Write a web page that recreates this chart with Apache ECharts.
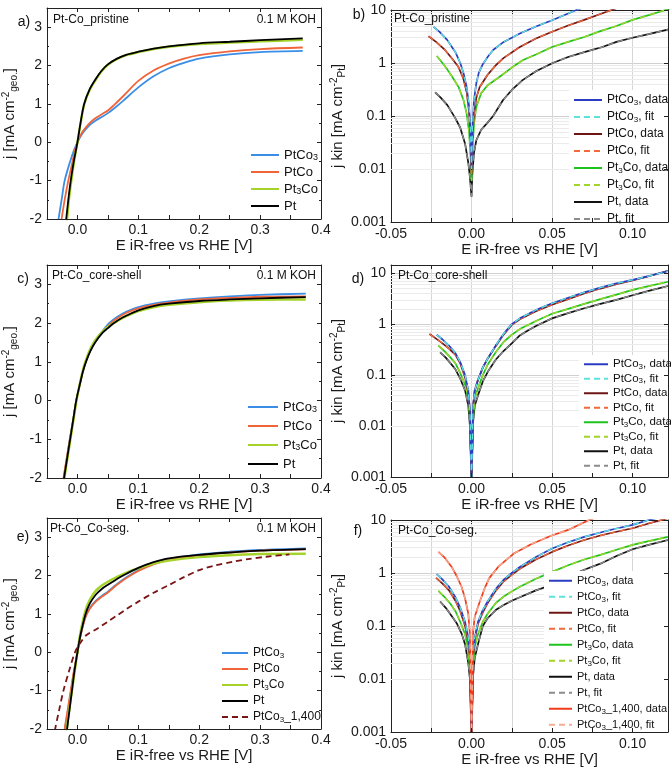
<!DOCTYPE html>
<html><head><meta charset="utf-8">
<script src="https://cdn.jsdelivr.net/npm/echarts/dist/echarts.min.js"></script>
<style>html,body{margin:0;padding:0;background:#fff}#c{width:671px;height:769px}</style>
</head><body><div id="c"></div>
<script>
// ---------- data ----------
// panel a: Pt-Co_pristine, linear j vs E
const a_PtCo3 = [[-0.033,-2.3],[-0.031,-2.0],[-0.026,-1.5],[-0.021,-1.0],[-0.012,-0.5],[-0.005,-0.18],[0,0],[0.005,0.15],[0.01,0.27],[0.02,0.45],[0.03,0.57],[0.04,0.66],[0.05,0.76],[0.06,0.88],[0.075,1.08],[0.1,1.43],[0.125,1.72],[0.15,1.93],[0.175,2.07],[0.2,2.18],[0.25,2.29],[0.3,2.35],[0.37,2.38]];
const a_PtCo = [[-0.028,-2.3],[-0.026,-2.0],[-0.021,-1.5],[-0.015,-1.0],[-0.008,-0.5],[-0.004,-0.2],[0,0],[0.005,0.18],[0.01,0.31],[0.02,0.5],[0.03,0.63],[0.04,0.73],[0.05,0.83],[0.06,0.97],[0.075,1.2],[0.1,1.6],[0.125,1.87],[0.15,2.05],[0.175,2.18],[0.2,2.27],[0.25,2.37],[0.3,2.43],[0.37,2.47]];
const a_Pt3Co = [[-0.0195,-2.3],[-0.017,-2.0],[-0.014,-1.5],[-0.010,-1.0],[-0.0055,-0.5],[0,0],[0.005,0.48],[0.011,0.98],[0.02,1.36],[0.03,1.63],[0.04,1.86],[0.05,2.02],[0.065,2.17],[0.08,2.27],[0.1,2.35],[0.125,2.43],[0.15,2.49],[0.2,2.56],[0.25,2.6],[0.3,2.63],[0.37,2.67]];
const a_Pt = [[-0.021,-2.3],[-0.0185,-2.0],[-0.015,-1.5],[-0.011,-1.0],[-0.006,-0.5],[-0.003,-0.25],[0,0],[0.005,0.5],[0.011,1.0],[0.02,1.38],[0.03,1.65],[0.04,1.87],[0.05,2.03],[0.065,2.18],[0.08,2.28],[0.1,2.36],[0.125,2.44],[0.15,2.5],[0.2,2.58],[0.25,2.62],[0.3,2.66],[0.37,2.71]];

// panel b: Pt-Co_pristine, kinetic current (log)
const b_PtCo3 = [[-0.0236,4.8],[-0.02,3.9],[-0.015,2.7],[-0.01,1.6],[-0.007,1.0],[-0.005,0.65],[-0.003,0.35],[-0.0015,0.15],[-0.0005,0.04],[0,0.01],[0.0005,0.05],[0.0015,0.2],[0.003,0.42],[0.0045,0.65],[0.007,0.95],[0.01,1.3],[0.0134,1.76],[0.02,2.5],[0.03,3.6],[0.04,4.9],[0.05,6.4],[0.06,8.6],[0.065,10],[0.07,11.3]];
const b_PtCo = [[-0.0267,3.2],[-0.022,2.5],[-0.0165,1.76],[-0.012,1.2],[-0.0082,0.85],[-0.005,0.5],[-0.003,0.28],[-0.0015,0.12],[-0.0005,0.035],[0,0.008],[0.0005,0.035],[0.0015,0.11],[0.003,0.22],[0.005,0.35],[0.01,0.6],[0.015,0.9],[0.02,1.25],[0.03,2.0],[0.04,2.9],[0.05,3.9],[0.06,5.1],[0.07,6.5],[0.08,8.4],[0.09,10.8]];
const b_Pt3Co = [[-0.0216,1.36],[-0.018,1.0],[-0.015,0.75],[-0.012,0.55],[-0.008,0.35],[-0.005,0.2],[-0.003,0.11],[-0.0015,0.05],[-0.0005,0.015],[0,0.006],[0.0005,0.02],[0.0015,0.07],[0.003,0.15],[0.006,0.27],[0.01,0.38],[0.0175,0.55],[0.025,0.82],[0.032,1.14],[0.04,1.45],[0.05,2.0],[0.06,2.5],[0.07,3.1],[0.08,4.0],[0.09,5.0],[0.1,6.5],[0.11,8.0],[0.12,9.9],[0.125,11]];
const b_Pt = [[-0.0226,0.28],[-0.019,0.22],[-0.015,0.16],[-0.01,0.09],[-0.007,0.06],[-0.004,0.03],[-0.002,0.013],[-0.001,0.007],[0,0.003],[0.0005,0.008],[0.0015,0.02],[0.003,0.035],[0.006,0.055],[0.01,0.075],[0.0134,0.1],[0.0196,0.2],[0.025,0.31],[0.0319,0.48],[0.04,0.7],[0.0504,1.0],[0.06,1.3],[0.07,1.6],[0.0813,2.0],[0.09,2.5],[0.1,3.0],[0.11,3.5],[0.1224,4.3]];

// panel c: Pt-Co_core-shell, linear
const c_PtCo3 = [[-0.025,-2.3],[-0.0225,-2.0],[-0.0175,-1.5],[-0.0125,-1.0],[-0.007,-0.5],[-0.002,0],[0.004,0.42],[0.009,0.76],[0.014,1.02],[0.021,1.3],[0.029,1.53],[0.04,1.77],[0.052,2.0],[0.065,2.16],[0.08,2.29],[0.1,2.41],[0.125,2.5],[0.15,2.56],[0.2,2.64],[0.25,2.69],[0.3,2.73],[0.375,2.76]];
const c_PtCo = [[-0.025,-2.3],[-0.0228,-2.0],[-0.0178,-1.5],[-0.0125,-1.0],[-0.007,-0.5],[-0.002,0],[0.004,0.42],[0.009,0.75],[0.014,1.01],[0.021,1.28],[0.029,1.51],[0.04,1.75],[0.055,2.0],[0.065,2.12],[0.08,2.26],[0.1,2.38],[0.125,2.47],[0.15,2.53],[0.2,2.61],[0.25,2.65],[0.3,2.68],[0.375,2.69]];
const c_Pt3Co = [[-0.0235,-2.3],[-0.0213,-2.0],[-0.0165,-1.5],[-0.0115,-1.0],[-0.0065,-0.5],[-0.0015,0],[0.004,0.44],[0.009,0.79],[0.014,1.05],[0.021,1.33],[0.029,1.55],[0.04,1.76],[0.05,1.9],[0.06,2.0],[0.075,2.14],[0.1,2.31],[0.125,2.41],[0.15,2.47],[0.2,2.54],[0.25,2.58],[0.3,2.6],[0.375,2.61]];
const c_Pt = [[-0.025,-2.3],[-0.022,-2.0],[-0.017,-1.5],[-0.012,-1.0],[-0.007,-0.5],[-0.002,0],[0.004,0.42],[0.009,0.75],[0.014,1.0],[0.021,1.27],[0.029,1.5],[0.04,1.73],[0.05,1.87],[0.059,1.99],[0.075,2.15],[0.1,2.33],[0.125,2.44],[0.15,2.5],[0.2,2.57],[0.25,2.61],[0.3,2.64],[0.375,2.67]];

// panel d: Pt-Co_core-shell, kinetic current (log)
const d_PtCo3 = [[-0.0216,0.62],[-0.018,0.5],[-0.014,0.38],[-0.01,0.27],[-0.007,0.18],[-0.004,0.1],[-0.002,0.05],[-0.001,0.02],[0,0.0008],[0.001,0.025],[0.002,0.05],[0.004,0.08],[0.007,0.14],[0.01,0.21],[0.015,0.38],[0.02,0.65],[0.025,1.0],[0.03,1.3],[0.04,1.9],[0.05,2.57],[0.06,3.3],[0.07,4.2],[0.08,5.2],[0.09,6.3],[0.1,7.4],[0.11,8.8],[0.122,11.0]];
const d_PtCo = [[-0.0261,0.64],[-0.022,0.52],[-0.018,0.42],[-0.014,0.33],[-0.01,0.25],[-0.007,0.17],[-0.004,0.09],[-0.002,0.045],[-0.001,0.02],[0,0.0008],[0.001,0.025],[0.002,0.05],[0.004,0.08],[0.007,0.14],[0.01,0.21],[0.015,0.37],[0.02,0.63],[0.025,0.97],[0.03,1.25],[0.04,1.8],[0.05,2.4],[0.06,3.1],[0.07,4.0],[0.08,5.0],[0.09,6.1],[0.1,7.2],[0.11,8.7],[0.122,11.2]];
const d_Pt3Co = [[-0.0206,0.38],[-0.017,0.3],[-0.013,0.22],[-0.01,0.17],[-0.007,0.11],[-0.004,0.065],[-0.002,0.035],[-0.001,0.015],[0,0.0008],[0.001,0.015],[0.002,0.035],[0.004,0.055],[0.007,0.1],[0.01,0.16],[0.015,0.28],[0.02,0.45],[0.025,0.62],[0.03,0.8],[0.036,1.0],[0.04,1.15],[0.05,1.6],[0.06,2.0],[0.07,2.5],[0.08,3.1],[0.09,3.8],[0.1,4.7],[0.11,5.6],[0.122,6.8]];
const d_Pt = [[-0.0195,0.28],[-0.016,0.22],[-0.013,0.17],[-0.01,0.13],[-0.007,0.085],[-0.004,0.05],[-0.002,0.025],[-0.001,0.01],[0,0.0008],[0.001,0.012],[0.002,0.025],[0.004,0.04],[0.007,0.075],[0.01,0.115],[0.015,0.2],[0.02,0.3],[0.025,0.42],[0.03,0.6],[0.035,0.75],[0.04,0.92],[0.05,1.3],[0.06,1.65],[0.07,2.05],[0.08,2.5],[0.09,3.0],[0.1,3.7],[0.11,4.5],[0.122,5.6]];

// panel e: Pt-Co_Co-seg., linear
const e_PtCo3 = [[-0.023,-2.3],[-0.0205,-2.0],[-0.0155,-1.5],[-0.0105,-1.0],[-0.0055,-0.5],[0,0],[0.005,0.44],[0.013,0.92],[0.02,1.15],[0.03,1.34],[0.04,1.47],[0.05,1.58],[0.062,1.74],[0.075,1.9],[0.1,2.14],[0.125,2.31],[0.15,2.43],[0.2,2.55],[0.25,2.62],[0.3,2.67],[0.375,2.71]];
const e_PtCo = [[-0.023,-2.3],[-0.021,-2.0],[-0.016,-1.5],[-0.011,-1.0],[-0.006,-0.5],[0,0],[0.005,0.42],[0.013,0.9],[0.02,1.13],[0.03,1.32],[0.04,1.45],[0.05,1.56],[0.062,1.72],[0.075,1.88],[0.1,2.12],[0.125,2.29],[0.15,2.41],[0.2,2.53],[0.25,2.6],[0.3,2.65],[0.375,2.68]];
const e_Pt3Co = [[-0.0195,-2.3],[-0.0175,-2.0],[-0.0135,-1.5],[-0.009,-1.0],[-0.0045,-0.5],[0,0],[0.005,0.52],[0.013,1.08],[0.02,1.36],[0.03,1.6],[0.04,1.74],[0.05,1.84],[0.062,1.94],[0.075,2.04],[0.1,2.19],[0.125,2.31],[0.15,2.39],[0.2,2.48],[0.25,2.53],[0.3,2.56],[0.375,2.57]];
const e_Pt = [[-0.019,-2.3],[-0.017,-2.0],[-0.013,-1.5],[-0.009,-1.0],[-0.005,-0.5],[0,0],[0.005,0.45],[0.013,0.98],[0.02,1.26],[0.03,1.5],[0.04,1.65],[0.05,1.76],[0.062,1.88],[0.075,2.0],[0.1,2.2],[0.125,2.35],[0.15,2.45],[0.2,2.54],[0.25,2.6],[0.3,2.65],[0.375,2.69]];
const e_PtCo3_1400 = [[-0.04,-2.3],[-0.0366,-2.0],[-0.03,-1.5],[-0.023,-1.0],[-0.014,-0.5],[-0.004,0],[0.004,0.23],[0.015,0.45],[0.033,0.62],[0.05,0.8],[0.066,0.97],[0.08,1.12],[0.1,1.32],[0.125,1.55],[0.15,1.75],[0.175,1.96],[0.2,2.14],[0.225,2.26],[0.256,2.36],[0.28,2.43],[0.31,2.49],[0.348,2.55]];

// panel f: Pt-Co_Co-seg., kinetic current (log)
const f_PtCo3 = [[-0.0216,0.95],[-0.018,0.75],[-0.014,0.55],[-0.01,0.35],[-0.007,0.22],[-0.004,0.12],[-0.002,0.06],[-0.001,0.03],[0,0.0008],[0.001,0.03],[0.002,0.06],[0.004,0.12],[0.007,0.2],[0.01,0.29],[0.015,0.5],[0.02,0.75],[0.025,1.0],[0.03,1.3],[0.04,2.0],[0.05,2.9],[0.06,3.8],[0.07,4.8],[0.08,5.8],[0.09,6.9],[0.1,8.1],[0.11,10],[0.118,11.5]];
const f_PtCo = [[-0.022,0.81],[-0.018,0.63],[-0.014,0.47],[-0.01,0.3],[-0.007,0.19],[-0.004,0.1],[-0.002,0.05],[-0.001,0.025],[0,0.0008],[0.001,0.028],[0.002,0.055],[0.004,0.11],[0.007,0.18],[0.01,0.27],[0.015,0.46],[0.02,0.7],[0.025,0.92],[0.03,1.2],[0.04,1.8],[0.05,2.5],[0.06,3.3],[0.07,4.2],[0.08,5.1],[0.09,6.0],[0.1,7.0],[0.11,8.6],[0.118,10],[0.124,11.3]];
const f_Pt3Co = [[-0.0206,0.46],[-0.017,0.36],[-0.013,0.26],[-0.01,0.19],[-0.007,0.12],[-0.004,0.07],[-0.002,0.035],[-0.001,0.015],[0,0.0008],[0.001,0.02],[0.002,0.04],[0.004,0.07],[0.007,0.12],[0.01,0.17],[0.015,0.27],[0.02,0.36],[0.025,0.45],[0.03,0.55],[0.04,0.78],[0.05,1.05],[0.06,1.4],[0.07,1.8],[0.08,2.2],[0.09,2.75],[0.1,3.4],[0.11,4.0],[0.122,4.8]];
const f_Pt = [[-0.0195,0.29],[-0.016,0.22],[-0.012,0.15],[-0.009,0.11],[-0.006,0.07],[-0.004,0.045],[-0.002,0.02],[-0.001,0.01],[0,0.0008],[0.001,0.012],[0.002,0.025],[0.004,0.045],[0.007,0.1],[0.01,0.14],[0.015,0.2],[0.02,0.25],[0.025,0.3],[0.03,0.35],[0.04,0.47],[0.05,0.6],[0.06,0.85],[0.07,1.15],[0.08,1.5],[0.09,2.1],[0.1,2.8],[0.11,3.4],[0.122,4.2]];
const f_PtCo3_1400 = [[-0.0206,2.5],[-0.017,2.0],[-0.0123,1.3],[-0.009,0.85],[-0.0062,0.55],[-0.004,0.33],[-0.002,0.17],[-0.001,0.07],[0,0.0008],[0.001,0.08],[0.002,0.15],[0.005,0.28],[0.008,0.5],[0.011,0.8],[0.0165,1.3],[0.026,2.3],[0.037,3.5],[0.049,5.0],[0.06,6.5],[0.073,10],[0.08,12]];

// labels
const panelLetters = ['a)','b)','c)','d)','e)','f)'];
const panelTitles = ['Pt-Co_pristine','Pt-Co_pristine','Pt-Co_core-shell','Pt-Co_core-shell','Pt-Co_Co-seg.','Pt-Co_Co-seg.'];
const electrolyte = '0.1 M KOH';
const xName = 'E iR-free vs RHE [V]';
const yNameLin = 'j [mA cm{sup|-2}{sub|geo.}]';
const yNameLog = 'j kin [mA cm{sup|-2}{sub|Pt}]';
const linYTicks = [-2, -1, 0, 1, 2, 3];
const logYTicks = [0.001, 0.01, 0.1, 1, 10];

// ---------- layout & styles ----------
const FONT = "'Liberation Sans', Arial, Helvetica, sans-serif";
const grids = [
  {left:47, top:8, width:274, height:211},
  {left:391, top:10, width:277, height:212},
  {left:47, top:265, width:274, height:213},
  {left:391, top:265, width:277, height:212},
  {left:47, top:518, width:274, height:211},
  {left:391, top:520, width:277, height:212}
];
const logMax = [null, 10, null, 14.5, null, 10];

const C = {
  PtCo3:'#3a8ee6', PtCo:'#f0643a', Pt3Co:'#a6d32b', Pt:'#000000', PtCo3_1400:'#7a1515',
  dPtCo3:'#2b3cc2', fPtCo3:'#5de3dc', dPtCo:'#6e1616', fPtCo:'#f06a3c',
  dPt3Co:'#1ec31e', fPt3Co:'#a3d42a', dPt:'#111111', fPt:'#8c8c8c', d1400:'#f03a1a', f1400:'#f6ad95'
};

function near(v, step){ return Math.abs(v/step - Math.round(v/step)) < 1e-6; }
const fmtLinX = v => near(v,0.1) ? (Math.abs(v)<1e-9 ? '0.0' : v.toFixed(1)) : '';
const fmtLogX = v => near(v,0.05) ? (Math.abs(v)<1e-9 ? '0.00' : v.toFixed(2)) : '';
const fmtLogY = v => logYTicks.some(t => Math.abs(t-v)/t < 1e-6) ? String(parseFloat(v.toPrecision(2))) : '';
const fmtLinY = v => linYTicks.indexOf(Math.round(v)) >= 0 && near(v,1) ? String(Math.round(v)) : '';
const fmtName = n => n.replace('PtCo3','PtCo{s|3}').replace('Pt3Co','Pt{s|3}Co');

const axisLineS = {show:true, onZero:false, lineStyle:{color:'#222', width:1}};
const tickS = {show:true, inside:true, length:4, lineStyle:{color:'#222', width:1}};
const nameStyle = {fontSize:15, fontFamily:FONT, color:'#1a1a1a', lineHeight:18,
  rich:{sup:{fontSize:10, fontFamily:FONT, color:'#1a1a1a', verticalAlign:'top', lineHeight:18},
        sub:{fontSize:10, fontFamily:FONT, color:'#1a1a1a', verticalAlign:'bottom', lineHeight:18}}};

const xAxes = [], yAxes = [], series = [], legends = [], graphics = [];

for (let p = 0; p < 6; p++) {
  const log = p % 2 === 1;
  const xr = log ? {min:-0.05, max:0.122, interval:0.025} : {min:-0.05, max:0.4, interval:0.05};
  xAxes.push({
    type:'value', gridIndex:p, position:'bottom', ...xr, z:8,
    axisLine:axisLineS, axisTick:tickS,
    axisLabel:{color:'#1a1a1a', fontSize:14, fontFamily:FONT, margin:log?5:4,
      formatter: log ? fmtLogX : fmtLinX, showMinLabel:true, showMaxLabel:!log},
    splitLine:{show:false},
    name:xName, nameLocation:'middle', nameGap: log ? 20 : 17,
    nameTextStyle:{fontSize:15, fontFamily:FONT, color:'#1a1a1a'}
  });
  // top mirror axis (also carries the vertical grid lines of the log panels)
  xAxes.push({
    type:'value', gridIndex:p, position:'top', ...xr, z:0,
    axisLine:axisLineS, axisTick:tickS, axisLabel:{show:false},
    splitLine:{show:log, lineStyle:{color:'#d6d6d6', width:1}}
  });
  if (log) {
    const yr = {type:'log', logBase:10, min:0.001, max:logMax[p]};
    yAxes.push({
      ...yr, gridIndex:p, position:'left',
      axisLine:axisLineS, axisTick:tickS,
      axisLabel:{color:'#1a1a1a', fontSize:14, fontFamily:FONT, margin:5, formatter:fmtLogY, showMaxLabel: p!==3},
      splitLine:{show:true, lineStyle:{color:'#d0d0d0', width:1}},
      name:yNameLog, nameLocation:'middle', nameGap:37, nameTextStyle:nameStyle
    });
    yAxes.push({...yr, gridIndex:p, position:'right', z:8, axisLine:axisLineS, axisTick:tickS,
      axisLabel:{show:false}, splitLine:{show:false}});
  } else {
    const yr = {type:'value', min:-2, max:3.5, interval:1};
    yAxes.push({
      ...yr, gridIndex:p, position:'left',
      axisLine:axisLineS, axisTick:tickS,
      minorTick:{show:true, splitNumber:2, length:2, lineStyle:{color:'#222'}},
      axisLabel:{color:'#1a1a1a', fontSize:14, fontFamily:FONT, margin:5, formatter:fmtLinY, showMaxLabel:false},
      splitLine:{show:false},
      name:yNameLin, nameLocation:'middle', nameGap:28, nameTextStyle:nameStyle
    });
    yAxes.push({...yr, gridIndex:p, position:'right', z:8, axisLine:axisLineS, axisTick:tickS,
      minorTick:{show:true, splitNumber:2, length:2, lineStyle:{color:'#222'}},
      axisLabel:{show:false}, splitLine:{show:false}});
  }
}

function ln(p, name, data, color, dashed, width, smooth) {
  series.push({
    type:'line', name, data, xAxisIndex:2*p, yAxisIndex:2*p,
    symbol:'none', showSymbol:false, clip:true, animation:false, z:3, smooth: smooth || false,
    lineStyle:{color, width:width||1.6, type: dashed ? [6,4] : 'solid'},
    itemStyle:{color}, emphasis:{disabled:true}
  });
}

// minor log grid lines (2..9 per decade)
function minorGrid(p, max) {
  const vals = [];
  [0.001, 0.01, 0.1, 1, 10].forEach(d => { for (let m = 2; m <= 9; m++) { const v = +(m*d).toPrecision(3); if (v < max) vals.push(v); } });
  series.push({
    type:'line', data:[], xAxisIndex:2*p, yAxisIndex:2*p, silent:true, z:1, animation:false,
    markLine:{silent:true, z:1, symbol:['none','none'], animation:false, label:{show:false},
      lineStyle:{color:'#ebebeb', width:1, type:'solid'}, emphasis:{disabled:true},
      data: vals.map(v => ({yAxis:v}))}
  });
}

// panel a
ln(0,'PtCo3',a_PtCo3,C.PtCo3,false,1.8,0.3); ln(0,'PtCo',a_PtCo,C.PtCo,false,1.8,0.3); ln(0,'Pt3Co',a_Pt3Co,C.Pt3Co,false,2.4,0.3); ln(0,'Pt',a_Pt,C.Pt,false,1.8,0.3);
// panel c
ln(2,'PtCo3',c_PtCo3,C.PtCo3,false,1.8,0.3); ln(2,'PtCo',c_PtCo,C.PtCo,false,1.8,0.3); ln(2,'Pt3Co',c_Pt3Co,C.Pt3Co,false,2.4,0.3); ln(2,'Pt',c_Pt,C.Pt,false,1.8,0.3);
// panel e
ln(4,'PtCo3',e_PtCo3,C.PtCo3,false,1.8,0.3); ln(4,'PtCo',e_PtCo,C.PtCo,false,1.8,0.3); ln(4,'Pt3Co',e_Pt3Co,C.Pt3Co,false,2.4,0.3); ln(4,'Pt',e_Pt,C.Pt,false,1.8,0.3);
ln(4,'PtCo3_1,400',e_PtCo3_1400,C.PtCo3_1400,true,1.8,0.3);

// log panels
const logSets = [
  [1, {PtCo3:b_PtCo3, PtCo:b_PtCo, Pt3Co:b_Pt3Co, Pt:b_Pt}],
  [3, {PtCo3:d_PtCo3, PtCo:d_PtCo, Pt3Co:d_Pt3Co, Pt:d_Pt}],
  [5, {PtCo3:f_PtCo3, PtCo:f_PtCo, Pt3Co:f_Pt3Co, Pt:f_Pt, PtCo3_1400:f_PtCo3_1400}]
];
logSets.forEach(([p, s]) => {
  minorGrid(p, logMax[p]);
  ln(p,'Pt, data',s.Pt,C.dPt,false,1.7); ln(p,'Pt, fit',s.Pt,C.fPt,true,1.3);
  ln(p,'Pt3Co, data',s.Pt3Co,C.dPt3Co,false,1.7); ln(p,'Pt3Co, fit',s.Pt3Co,C.fPt3Co,true,1.3);
  ln(p,'PtCo, data',s.PtCo,C.dPtCo,false,1.7); ln(p,'PtCo, fit',s.PtCo,C.fPtCo,true,1.3);
  ln(p,'PtCo3, data',s.PtCo3,C.dPtCo3,false,1.7); ln(p,'PtCo3, fit',s.PtCo3,C.fPtCo3,true,1.3);
  if (s.PtCo3_1400) { ln(p,'PtCo3_1,400, data',s.PtCo3_1400,C.d1400,false,1.7); ln(p,'PtCo3_1,400, fit',s.PtCo3_1400,C.f1400,true,1.3); }
});

// legends
function legend(names, left, top, gap, iw, fs, lh, bg) {
  legends.push({
    data:names, orient:'vertical', left, top, itemGap:gap, itemWidth:iw, itemHeight:10,
    padding: bg ? [3,2,2,4] : 0, backgroundColor: bg ? '#ffffff' : 'transparent', z:6,
    selectedMode:false, formatter:fmtName,
    itemStyle:{opacity:0, borderWidth:0},
    textStyle:{fontSize:fs, fontFamily:FONT, color:'#111', lineHeight:lh,
      rich:{s:{fontSize:Math.round(fs*0.7), fontFamily:FONT, color:'#111', verticalAlign:'bottom', lineHeight:lh}}}
  });
}
const L1 = ['PtCo3','PtCo','Pt3Co','Pt'];
const L2 = ['PtCo3, data','PtCo3, fit','PtCo, data','PtCo, fit','Pt3Co, data','Pt3Co, fit','Pt, data','Pt, fit'];
legend(L1, 250, 148, 3, 28, 13, 14, false);
legend(L1, 247, 400, 5, 30, 13, 14, false);
legend(L1.concat(['PtCo3_1,400']), 221, 646, 2, 26, 12, 14, false);
legend(L2, 569, 90, 3, 28, 12, 14, true);
legend(L2, 579, 355, 2, 24, 11.5, 12.5, true);
legend(L2.concat(['PtCo3_1,400, data','PtCo3_1,400, fit']), 544, 571, 2.5, 23, 11, 13.5, true);

// panel texts
const letterPos = [[24,22],[359,15],[23,279],[358,279],[23,537],[358,531]];
const titlePos = [[53,20],[394,19],[52,276],[398,276],[50,529],[398,531]];
const kohY = [20, null, 276, null, 529, null];
for (let p = 0; p < 6; p++) {
  graphics.push({type:'text', x:letterPos[p][0], y:letterPos[p][1], z:10,
    style:{text:panelLetters[p], font:'14px '+FONT, fill:'#111', align:'center', verticalAlign:'middle'}});
  graphics.push({type:'text', x:titlePos[p][0], y:titlePos[p][1], z:10,
    style:{text:panelTitles[p], font:'12px '+FONT, fill:'#111', align:'left', verticalAlign:'middle'}});
  if (kohY[p] !== null) graphics.push({type:'text', x:316, y:kohY[p], z:10,
    style:{text:electrolyte, font:'12px '+FONT, fill:'#111', align:'right', verticalAlign:'middle'}});
}

const chart = echarts.init(document.getElementById('c'), null, {renderer:'canvas'});
chart.setOption({
  animation:false, backgroundColor:'#ffffff',
  grid: grids.map(g => ({...g, containLabel:false, show:false})),
  xAxis:xAxes, yAxis:yAxes, series, legend:legends, graphic:graphics,
  tooltip:{show:false}
});
</script></body></html>
